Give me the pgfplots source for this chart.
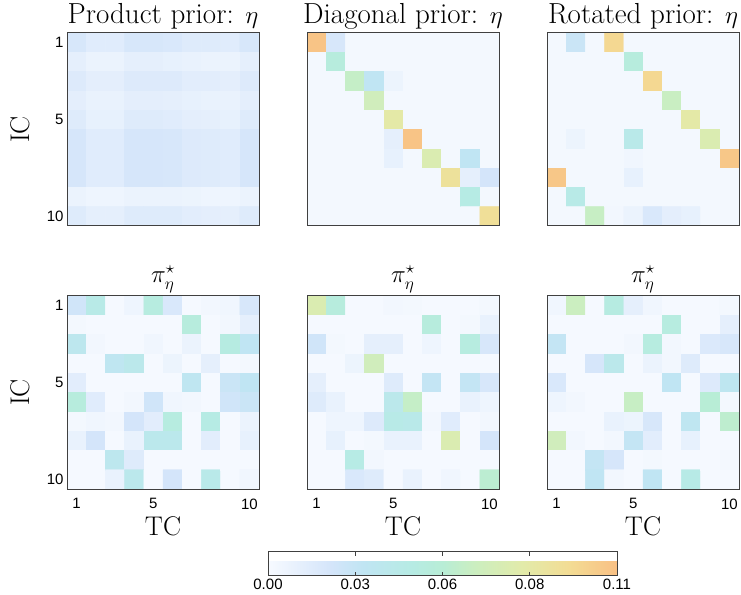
\documentclass[border=0pt]{standalone}
\usepackage{fontspec}
\usepackage{pgfplots}
\pgfplotsset{compat=1.18}
\newfontfamily\tickfont{Liberation Sans}
\pgfplotsset{
  colormap={calm}{rgb255(0cm)=(247,250,255) rgb255(2cm)=(212,229,250) rgb255(3cm)=(192,229,243) rgb255(4.5cm)=(182,235,228) rgb255(5.5cm)=(184,237,214) rgb255(6.5cm)=(203,238,192) rgb255(8cm)=(226,235,170) rgb255(9.5cm)=(243,220,148) rgb255(11cm)=(249,192,132)},
  hm/.style={scale only axis, width=192pt, height=193pt, anchor=south west,
    xmin=0.5, xmax=10.5, ymin=0.5, ymax=10.5, y dir=reverse,
    colormap name=calm, point meta min=0, point meta max=0.11,
    axis on top, axis line style={draw=black!75, line width=1pt},
    tick style={draw=none},
    xtick={1,5,10}, ytick={1,5,10}, xticklabels={}, yticklabels={},
    ticklabel style={font=\tickfont\fontsize{15}{18}\selectfont},
    xticklabel style={yshift=-6pt},
    title style={at={(0.5,1)}, anchor=base, yshift=3pt, font=\fontsize{29}{32}\selectfont},
    label style={font=\fontsize{27}{30}\selectfont},
    ylabel style={at={(axis description cs:-0.245,0.5)}, anchor=center},
    xlabel style={at={(axis description cs:0.5,-0.24)}, anchor=base},
  },
  lefttick/.style={yticklabels={1,5,10}, ylabel={IC}},
  bottick/.style={xticklabels={1,5,10}, xlabel={TC}},
  bottitle/.style={title={$\pi^\star_\eta$}, title style={yshift=4pt, font=\fontsize{27}{30}\selectfont}},
}
\begin{document}
\begin{tikzpicture}
\path[use as bounding box] (0,0) rectangle (741pt,594pt);
% Product prior
\begin{axis}[hm, lefttick, at={(67pt,368pt)}, title={Product prior: $\eta$}]
\addplot[matrix plot*, mesh/cols=10, point meta=explicit] coordinates {
(1,1)[.018](2,1)[.013](3,1)[.013](4,1)[.018](5,1)[.018](6,1)[.017](7,1)[.014](8,1)[.014](9,1)[.013](10,1)[.018]
(1,2)[.010](2,2)[.007](3,2)[.007](4,2)[.010](5,2)[.010](6,2)[.009](7,2)[.008](8,2)[.007](9,2)[.007](10,2)[.010]
(1,3)[.015](2,3)[.011](3,3)[.011](4,3)[.015](5,3)[.015](6,3)[.015](7,3)[.012](8,3)[.012](9,3)[.011](10,3)[.015]
(1,4)[.011](2,4)[.008](3,4)[.008](4,4)[.011](5,4)[.011](6,4)[.010](7,4)[.009](8,4)[.008](9,4)[.008](10,4)[.011]
(1,5)[.014](2,5)[.009](3,5)[.009](4,5)[.014](5,5)[.014](6,5)[.013](7,5)[.011](8,5)[.010](9,5)[.009](10,5)[.014]
(1,6)[.019](2,6)[.013](3,6)[.013](4,6)[.019](5,6)[.019](6,6)[.018](7,6)[.015](8,6)[.014](9,6)[.013](10,6)[.019]
(1,7)[.019](2,7)[.013](3,7)[.013](4,7)[.019](5,7)[.019](6,7)[.018](7,7)[.015](8,7)[.014](9,7)[.013](10,7)[.019]
(1,8)[.019](2,8)[.013](3,8)[.013](4,8)[.019](5,8)[.019](6,8)[.018](7,8)[.015](8,8)[.014](9,8)[.013](10,8)[.019]
(1,9)[.007](2,9)[.005](3,9)[.005](4,9)[.007](5,9)[.007](6,9)[.007](7,9)[.006](8,9)[.005](9,9)[.005](10,9)[.007]
(1,10)[.014](2,10)[.010](3,10)[.010](4,10)[.014](5,10)[.014](6,10)[.014](7,10)[.012](8,10)[.011](9,10)[.010](10,10)[.014]
};
\end{axis}
% Diagonal prior
\begin{axis}[hm, at={(307pt,368pt)}, title={Diagonal prior: $\eta$}]
\addplot[matrix plot*, mesh/cols=10, point meta=explicit] coordinates {
(1,1)[.108](2,1)[.018](3,1)[.002](4,1)[.002](5,1)[.002](6,1)[.002](7,1)[.002](8,1)[.002](9,1)[.002](10,1)[.002]
(1,2)[.002](2,2)[.050](3,2)[.002](4,2)[.002](5,2)[.002](6,2)[.002](7,2)[.002](8,2)[.002](9,2)[.002](10,2)[.002]
(1,3)[.002](2,3)[.002](3,3)[.062](4,3)[.030](5,3)[.006](6,3)[.002](7,3)[.002](8,3)[.002](9,3)[.002](10,3)[.002]
(1,4)[.002](2,4)[.002](3,4)[.002](4,4)[.068](5,4)[.002](6,4)[.002](7,4)[.002](8,4)[.002](9,4)[.002](10,4)[.002]
(1,5)[.002](2,5)[.002](3,5)[.002](4,5)[.002](5,5)[.082](6,5)[.002](7,5)[.002](8,5)[.002](9,5)[.002](10,5)[.002]
(1,6)[.002](2,6)[.002](3,6)[.002](4,6)[.002](5,6)[.010](6,6)[.108](7,6)[.002](8,6)[.002](9,6)[.002](10,6)[.002]
(1,7)[.002](2,7)[.002](3,7)[.002](4,7)[.002](5,7)[.009](6,7)[.002](7,7)[.075](8,7)[.002](9,7)[.030](10,7)[.002]
(1,8)[.002](2,8)[.002](3,8)[.002](4,8)[.002](5,8)[.002](6,8)[.002](7,8)[.002](8,8)[.090](9,8)[.010](10,8)[.020]
(1,9)[.002](2,9)[.002](3,9)[.002](4,9)[.002](5,9)[.002](6,9)[.002](7,9)[.002](8,9)[.002](9,9)[.045](10,9)[.002]
(1,10)[.002](2,10)[.002](3,10)[.002](4,10)[.002](5,10)[.002](6,10)[.002](7,10)[.002](8,10)[.002](9,10)[.002](10,10)[.092]
};
\end{axis}
% Rotated prior
\begin{axis}[hm, at={(547pt,368pt)}, title={Rotated prior: $\eta$}]
\addplot[matrix plot*, mesh/cols=10, point meta=explicit] coordinates {
(1,1)[.002](2,1)[.025](3,1)[.002](4,1)[.097](5,1)[.002](6,1)[.002](7,1)[.002](8,1)[.002](9,1)[.002](10,1)[.002]
(1,2)[.002](2,2)[.002](3,2)[.002](4,2)[.002](5,2)[.050](6,2)[.002](7,2)[.002](8,2)[.002](9,2)[.002](10,2)[.002]
(1,3)[.002](2,3)[.002](3,3)[.002](4,3)[.002](5,3)[.002](6,3)[.097](7,3)[.002](8,3)[.002](9,3)[.002](10,3)[.002]
(1,4)[.002](2,4)[.002](3,4)[.002](4,4)[.002](5,4)[.002](6,4)[.002](7,4)[.064](8,4)[.002](9,4)[.002](10,4)[.002]
(1,5)[.002](2,5)[.002](3,5)[.002](4,5)[.002](5,5)[.002](6,5)[.002](7,5)[.002](8,5)[.082](9,5)[.002](10,5)[.002]
(1,6)[.002](2,6)[.006](3,6)[.002](4,6)[.002](5,6)[.040](6,6)[.002](7,6)[.002](8,6)[.002](9,6)[.075](10,6)[.002]
(1,7)[.002](2,7)[.002](3,7)[.002](4,7)[.002](5,7)[.004](6,7)[.002](7,7)[.002](8,7)[.002](9,7)[.002](10,7)[.106]
(1,8)[.106](2,8)[.002](3,8)[.002](4,8)[.002](5,8)[.009](6,8)[.002](7,8)[.002](8,8)[.002](9,8)[.002](10,8)[.002]
(1,9)[.002](2,9)[.042](3,9)[.002](4,9)[.002](5,9)[.002](6,9)[.002](7,9)[.002](8,9)[.002](9,9)[.002](10,9)[.002]
(1,10)[.002](2,10)[.002](3,10)[.063](4,10)[.003](5,10)[.007](6,10)[.017](7,10)[.011](8,10)[.009](9,10)[.002](10,10)[.002]
};
\end{axis}
% pi star, product
\begin{axis}[hm, lefttick, bottick, bottitle, at={(67pt,105pt)}]
\addplot[matrix plot*, mesh/cols=10, point meta=explicit] coordinates {
(1,1)[.022](2,1)[.042](3,1)[.001](4,1)[.005](5,1)[.048](6,1)[.017](7,1)[.001](8,1)[.003](9,1)[.004](10,1)[.018]
(1,2)[.002](2,2)[.001](3,2)[.001](4,2)[.001](5,2)[.001](6,2)[.001](7,2)[.050](8,2)[.001](9,2)[.003](10,2)[.010]
(1,3)[.035](2,3)[.003](3,3)[.001](4,3)[.001](5,3)[.004](6,3)[.001](7,3)[.007](8,3)[.001](9,3)[.047](10,3)[.030]
(1,4)[.001](2,4)[.001](3,4)[.032](4,4)[.038](5,4)[.001](6,4)[.006](7,4)[.001](8,4)[.010](9,4)[.001](10,4)[.002]
(1,5)[.012](2,5)[.001](3,5)[.001](4,5)[.001](5,5)[.001](6,5)[.001](7,5)[.032](8,5)[.001](9,5)[.025](10,5)[.030]
(1,6)[.050](2,6)[.013](3,6)[.001](4,6)[.003](5,6)[.022](6,6)[.004](7,6)[.003](8,6)[.001](9,6)[.022](10,6)[.025]
(1,7)[.002](2,7)[.004](3,7)[.003](4,7)[.020](5,7)[.012](6,7)[.048](7,7)[.001](8,7)[.045](9,7)[.001](10,7)[.007]
(1,8)[.008](2,8)[.020](3,8)[.001](4,8)[.008](5,8)[.037](6,8)[.037](7,8)[.001](8,8)[.012](9,8)[.001](10,8)[.009]
(1,9)[.001](2,9)[.001](3,9)[.035](4,9)[.014](5,9)[.001](6,9)[.001](7,9)[.001](8,9)[.001](9,9)[.001](10,9)[.001]
(1,10)[.001](2,10)[.001](3,10)[.008](4,10)[.037](5,10)[.001](6,10)[.020](7,10)[.001](8,10)[.040](9,10)[.001](10,10)[.004]
};
\end{axis}
% pi star, diagonal
\begin{axis}[hm, bottick, bottitle, at={(307pt,105pt)}]
\addplot[matrix plot*, mesh/cols=10, point meta=explicit] coordinates {
(1,1)[.075](2,1)[.050](3,1)[.001](4,1)[.001](5,1)[.003](6,1)[.002](7,1)[.001](8,1)[.001](9,1)[.001](10,1)[.002]
(1,2)[.001](2,2)[.001](3,2)[.001](4,2)[.001](5,2)[.001](6,2)[.001](7,2)[.050](8,2)[.001](9,2)[.002](10,2)[.008]
(1,3)[.022](2,3)[.002](3,3)[.001](4,3)[.010](5,3)[.010](6,3)[.001](7,3)[.005](8,3)[.001](9,3)[.048](10,3)[.018]
(1,4)[.001](2,4)[.001](3,4)[.006](4,4)[.068](5,4)[.001](6,4)[.001](7,4)[.001](8,4)[.001](9,4)[.001](10,4)[.001]
(1,5)[.010](2,5)[.001](3,5)[.001](4,5)[.001](5,5)[.014](6,5)[.001](7,5)[.028](8,5)[.001](9,5)[.028](10,5)[.018]
(1,6)[.014](2,6)[.008](3,6)[.001](4,6)[.001](5,6)[.038](6,6)[.062](7,6)[.001](8,6)[.001](9,6)[.008](10,6)[.005]
(1,7)[.001](2,7)[.005](3,7)[.005](4,7)[.015](5,7)[.042](6,7)[.040](7,7)[.003](8,7)[.013](9,7)[.001](10,7)[.003]
(1,8)[.001](2,8)[.009](3,8)[.001](4,8)[.002](5,8)[.008](6,8)[.008](7,8)[.001](8,8)[.075](9,8)[.001](10,8)[.020]
(1,9)[.001](2,9)[.001](3,9)[.044](4,9)[.003](5,9)[.001](6,9)[.001](7,9)[.001](8,9)[.001](9,9)[.001](10,9)[.001]
(1,10)[.001](2,10)[.001](3,10)[.017](4,10)[.014](5,10)[.001](6,10)[.008](7,10)[.001](8,10)[.004](9,10)[.001](10,10)[.057]
};
\end{axis}
% pi star, rotated
\begin{axis}[hm, bottick, bottitle, at={(547pt,105pt)}]
\addplot[matrix plot*, mesh/cols=10, point meta=explicit] coordinates {
(1,1)[.004](2,1)[.065](3,1)[.001](4,1)[.047](5,1)[.010](6,1)[.004](7,1)[.001](8,1)[.001](9,1)[.001](10,1)[.002]
(1,2)[.001](2,2)[.001](3,2)[.001](4,2)[.001](5,2)[.001](6,2)[.001](7,2)[.048](8,2)[.001](9,2)[.001](10,2)[.010]
(1,3)[.028](2,3)[.001](3,3)[.001](4,3)[.001](5,3)[.003](6,3)[.048](7,3)[.003](8,3)[.001](9,3)[.016](10,3)[.018]
(1,4)[.001](2,4)[.001](3,4)[.019](4,4)[.038](5,4)[.001](6,4)[.007](7,4)[.003](8,4)[.014](9,4)[.001](10,4)[.001]
(1,5)[.017](2,5)[.001](3,5)[.001](4,5)[.001](5,5)[.001](6,5)[.001](7,5)[.030](8,5)[.001](9,5)[.015](10,5)[.033]
(1,6)[.005](2,6)[.003](3,6)[.001](4,6)[.001](5,6)[.063](6,6)[.001](7,6)[.001](8,6)[.001](9,6)[.055](10,6)[.002]
(1,7)[.001](2,7)[.001](3,7)[.001](4,7)[.008](5,7)[.006](6,7)[.018](7,7)[.001](8,7)[.032](9,7)[.001](10,7)[.058]
(1,8)[.068](2,8)[.003](3,8)[.001](4,8)[.003](5,8)[.028](6,8)[.012](7,8)[.001](8,8)[.009](9,8)[.001](10,8)[.001]
(1,9)[.001](2,9)[.001](3,9)[.028](4,9)[.019](5,9)[.001](6,9)[.002](7,9)[.001](8,9)[.001](9,9)[.001](10,9)[.002]
(1,10)[.001](2,10)[.001](3,10)[.030](4,10)[.003](5,10)[.001](6,10)[.030](7,10)[.001](8,10)[.043](9,10)[.001](10,10)[.001]
};
\end{axis}
% colorbar
\begin{axis}[at={(268pt,27pt)}, anchor=south west, scale only axis, width=349pt, height=24pt,
  hide axis, xmin=0, xmax=1, ymin=0, ymax=1,
  colormap name=calm, point meta min=0, point meta max=0.11,
  colorbar horizontal,
  colorbar style={at={(parent axis.south west)}, anchor=south west,
    scale only axis, width=349pt, height=24pt,
    xtick={0,0.0275,0.055,0.0825,0.11},
    xticklabels={0.00,0.03,0.06,0.08,0.11},
    xticklabel style={font=\tickfont\fontsize{15}{18}\selectfont},
    xtick pos=both, xticklabel pos=lower, xtick align=inside,
    major tick length=4pt,
    axis line style={draw=black!75, line width=1pt},
    tick style={draw=black!75, line width=0.8pt}}]
\addplot[draw=none] coordinates {(0,0)};
\end{axis}
\end{tikzpicture}
\end{document}
